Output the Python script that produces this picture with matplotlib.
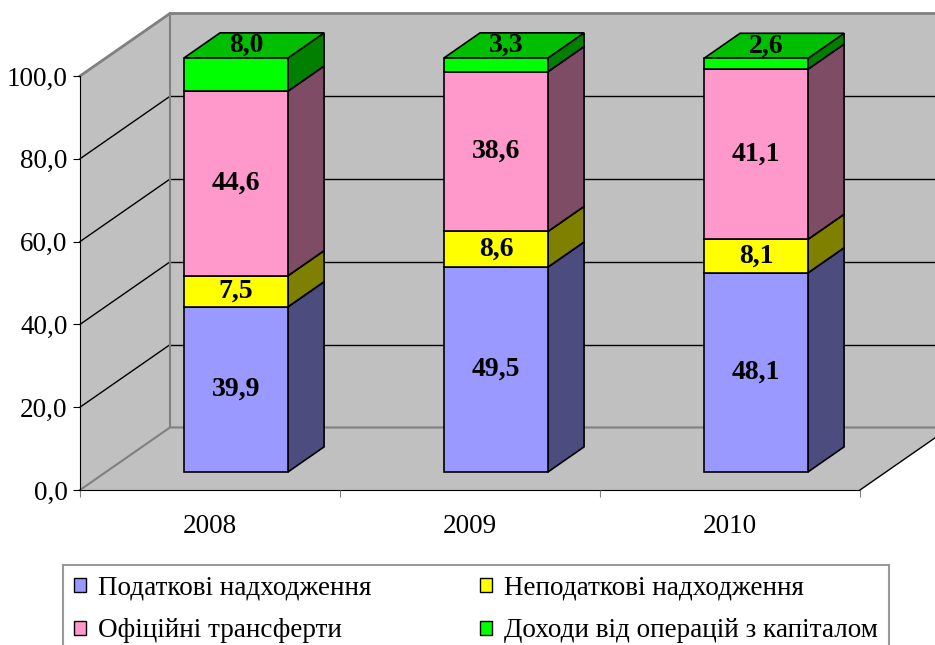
"""
3D-style stacked bar chart of budget revenue structure, 2008-2010.
"""
import matplotlib
matplotlib.use('Agg')
import matplotlib.pyplot as plt
from matplotlib.patches import Polygon, Patch

plt.rcParams['font.family'] = ['Liberation Serif', 'DejaVu Serif']

# ---------- data ----------
years = ['2008', '2009', '2010']
tax = [39.9, 49.5, 48.1]
nontax = [7.5, 8.6, 8.1]
transfers = [44.6, 38.6, 41.1]
capital = [8.0, 3.3, 2.6]

series_names = ['Податкові надходження', 'Неподаткові надходження',
                'Офіційні трансферти', 'Доходи від операцій з капіталом']
series_vals = [tax, nontax, transfers, capital]
front_cols = ['#9999FF', '#FFFF00', '#FF99CC', '#00FF00']
side_cols = ['#4C4C7F', '#7F7F00', '#7F4C66', '#007F00']
top_cols = ['#7373BF', '#BFBF00', '#BF7399', '#00BF00']

yticks = [0, 20, 40, 60, 80, 100]

# ---------- 3d geometry (in data units) ----------
depth_x, depth_y = 0.346, 15.1     # full floor depth
front_f, bar_f = 0.29, 0.40        # bar front position / bar depth, fraction of depth
bar_w = 0.40
fdx, fdy = front_f * depth_x, front_f * depth_y
bdx, bdy = bar_f * depth_x, bar_f * depth_y

fig = plt.figure(figsize=(9.35, 6.45), dpi=100)
ax = fig.add_axes([80 / 935, 155 / 645, 780 / 935, 414 / 645])
ax.set_xlim(0, len(years))
ax.set_ylim(0, 100)
ax.patch.set_visible(False)

wall = '#C0C0C0'
edge = '#808080'
n = len(years)
# left wall, back wall, floor
ax.add_patch(Polygon([(0, 0), (0, 100), (depth_x, 100 + depth_y), (depth_x, depth_y)],
                     closed=True, fc=wall, ec='none', zorder=0.5, clip_on=False))
ax.add_patch(Polygon([(depth_x, depth_y), (n + depth_x, depth_y),
                      (n + depth_x, 100 + depth_y), (depth_x, 100 + depth_y)],
                     closed=True, fc=wall, ec='none', zorder=0.5, clip_on=False))
ax.add_patch(Polygon([(0, 0), (n, 0), (n + depth_x, depth_y), (depth_x, depth_y)],
                     closed=True, fc=wall, ec='none', zorder=0.5, clip_on=False))

# grid lines on walls
for v in yticks[1:-1]:
    ax.plot([0, depth_x], [v, v + depth_y], color='black', lw=1, zorder=0.6, clip_on=False)
    ax.plot([depth_x, n + depth_x], [v + depth_y, v + depth_y], color='black', lw=1,
            zorder=0.6, clip_on=False)
# wall outlines
ax.plot([0, depth_x, n + depth_x], [100, 100 + depth_y, 100 + depth_y], color=edge, lw=2,
        zorder=0.7, clip_on=False)
ax.plot([depth_x, depth_x], [depth_y, 100 + depth_y], color=edge, lw=1.5, zorder=0.7,
        clip_on=False)
ax.plot([0, depth_x, n + depth_x], [0, depth_y, depth_y], color=edge, lw=1.5, zorder=0.7,
        clip_on=False)
ax.plot([n, n + depth_x], [0, depth_y], color='black', lw=1, zorder=0.7, clip_on=False)

# ---------- bars ----------
xc = [i + 0.5 + fdx for i in range(n)]
bottoms = [0.0] * n
z = 2
for k, vals in enumerate(series_vals):
    for i in range(n):
        b = bottoms[i] + fdy
        t = b + vals[i]
        x0, x1 = xc[i] - bar_w / 2, xc[i] + bar_w / 2
        ax.add_patch(Polygon([(x1, b), (x1 + bdx, b + bdy), (x1 + bdx, t + bdy), (x1, t)],
                             closed=True, fc=side_cols[k], ec='black', lw=1.2,
                             zorder=z, clip_on=False))
        ax.add_patch(Polygon([(x0, t), (x1, t), (x1 + bdx, t + bdy), (x0 + bdx, t + bdy)],
                             closed=True, fc=top_cols[k], ec='black', lw=1.2,
                             zorder=z, clip_on=False))
    ax.bar(xc, vals, width=bar_w, bottom=[bv + fdy for bv in bottoms], color=front_cols[k],
           edgecolor='black', linewidth=1.2, zorder=z + 0.1, clip_on=False)
    for i in range(n):
        lab = f'{vals[i]:.1f}'.replace('.', ',')
        if k == len(series_vals) - 1:
            tx, ty = xc[i] + bdx / 2 - 0.03, bottoms[i] + fdy + vals[i] + bdy / 2
        else:
            tx, ty = xc[i], bottoms[i] + fdy + vals[i] / 2
        ax.text(tx, ty, lab, ha='center', va='center', fontsize=20, fontweight='bold',
                zorder=z + 0.5, clip_on=False)
    bottoms = [bv + v for bv, v in zip(bottoms, vals)]
    z += 1

# ---------- axes ----------
for s in ['top', 'right']:
    ax.spines[s].set_visible(False)
ax.spines['left'].set_zorder(0.8)
ax.spines['bottom'].set_zorder(0.8)
ax.set_yticks(yticks)
ax.set_yticklabels([f'{v:.1f}'.replace('.', ',') for v in yticks], fontsize=19.5)
ax.tick_params(axis='y', direction='out', length=5, pad=4)
ax.set_xticks(range(n + 1))
ax.set_xticklabels([])
ax.set_xticks([i + 0.5 for i in range(n)], minor=True)
ax.set_xticklabels(years, minor=True, fontsize=19.5)
ax.tick_params(axis='x', which='major', direction='out', length=5, color=edge)
ax.tick_params(axis='x', which='minor', length=0, pad=17)

# ---------- legend ----------
order = [0, 2, 1, 3]
handles = [Patch(facecolor=front_cols[k], edgecolor='black') for k in order]
labels = [series_names[k] for k in order]
leg = fig.legend(handles, labels, loc='upper left', bbox_to_anchor=(63 / 935, 80 / 645),
                 ncol=2, frameon=True, fancybox=False, edgecolor=edge, fontsize=19.5,
                 handlelength=0.45, handleheight=0.45, handletextpad=0.45,
                 columnspacing=4.0, labelspacing=0.65, borderpad=0.4, borderaxespad=0)
leg.get_frame().set_linewidth(1.5)

fig.savefig('out.png', dpi=100)
